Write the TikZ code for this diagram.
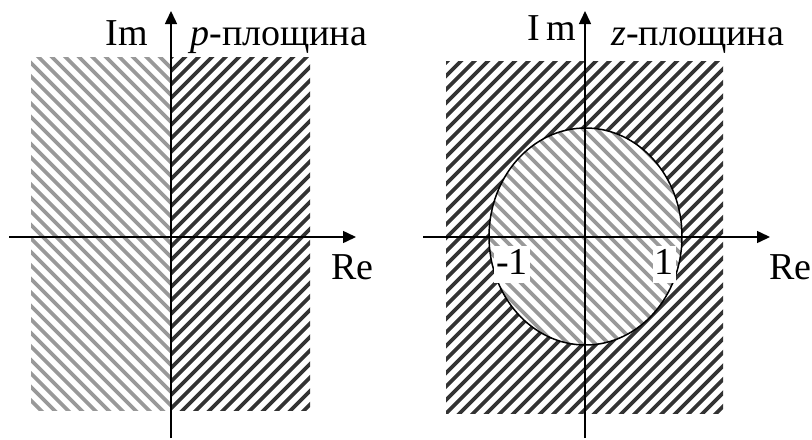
\documentclass[tikz,border=0pt]{standalone}
\usepackage{fontspec}
\setmainfont{Liberation Serif}
\usetikzlibrary{arrows.meta}
\begin{document}
\begin{tikzpicture}[x=0.5pt,y=-0.5pt,
  axis/.style={line width=0.75pt,-{Triangle[length=6.5pt,width=6pt]}},
  lbl/.style={inner sep=0pt,font=\fontsize{19}{21}\selectfont},
  numlbl/.style={lbl,fill=white,inner sep=1pt,text height=13pt,text depth=3.5pt},
  hdark/.style={line width=1.85pt,black!80},
  hgray/.style={line width=1.85pt,black!40},
  rim/.style={line width=0.75pt}]
\useasboundingbox (0,0) rectangle (812,439);
% ---------- left panel: p-plane ----------
\begin{scope}
  \clip (31,57) rectangle (171,410);
  \foreach \i in {0,...,41} \draw[hgray] ({-410+\i*13.5},0) -- ++(450,450);
\end{scope}
\begin{scope}
  \clip (171,57) rectangle (310,410);
  \foreach \i in {0,...,38} \draw[hdark] ({-235+\i*13.5},450) -- ++(450,-450);
\end{scope}
\coordinate (lxl) at (9,237);
\coordinate (lxr) at (356,237);
\coordinate (lyb) at (171,438);
\coordinate (lyt) at (171,11);
\draw[axis] (lxl) -- (lxr);
\draw[axis] (lyb) -- (lyt);
\node[lbl,anchor=base] (lim) at (127,45) {Im};
\node[lbl,anchor=base west] (lp) at (190,45) {\textit{p}-площина};
\node[lbl,anchor=base west] (lre) at (331,279) {Re};
% ---------- right panel: z-plane ----------
\begin{scope}
  \clip (446,61) rectangle (723,413);
  \foreach \i in {0,...,48} \draw[hdark] ({45+\i*13.5},450) -- ++(450,-450);
\end{scope}
\begin{scope}
  \fill[white] (585.5,236.5) ellipse [x radius=48.25pt, y radius=54.25pt];
  \clip (585.5,236.5) ellipse [x radius=48.25pt, y radius=54.25pt];
  \foreach \i in {0,...,33} \draw[hgray] ({130+\i*13.5},0) -- ++(450,450);
\end{scope}
\draw[rim] (585.5,236.5) ellipse [x radius=48.25pt, y radius=54.25pt];
\coordinate (rxl) at (423,237);
\coordinate (rxr) at (770,237);
\coordinate (ryb) at (585,438);
\coordinate (ryt) at (585,11);
\draw[axis] (rxl) -- (rxr);
\draw[axis] (ryb) -- (ryt);
\node[lbl,anchor=base] (rim) at (552,40) {I\,m};
\node[lbl,anchor=base west] (rz) at (611,45) {\textit{z}-площина};
\node[numlbl,anchor=base] (rm1) at (512,274) {-1};
\node[numlbl,anchor=base] (rp1) at (664,274) {1};
\node[lbl,anchor=base west] (rre) at (769,279) {Re};
\end{tikzpicture}
\end{document}
